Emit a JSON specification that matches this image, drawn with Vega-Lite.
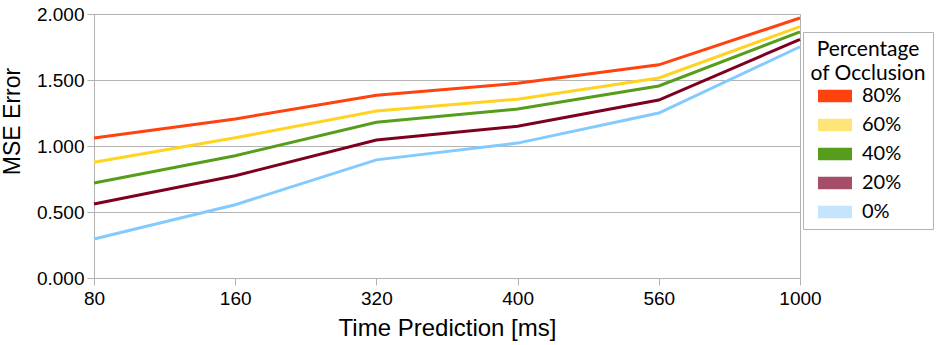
{
  "$schema": "https://vega.github.io/schema/vega-lite/v6.json",
  "width": 706,
  "height": 264,
  "autosize": "none",
  "padding": {"left": 94, "top": 14, "right": 136, "bottom": 67},
  "background": "white",
  "config": {
    "view": {"stroke": "#b3b3b3", "strokeWidth": 1},
    "font": "Liberation Sans"
  },
  "data": {
    "values": [
      {"time": 80, "occl": "80%", "mse": 1.06},
      {"time": 160, "occl": "80%", "mse": 1.205},
      {"time": 320, "occl": "80%", "mse": 1.385},
      {"time": 400, "occl": "80%", "mse": 1.475},
      {"time": 560, "occl": "80%", "mse": 1.615},
      {"time": 1000, "occl": "80%", "mse": 1.97},
      {"time": 80, "occl": "60%", "mse": 0.877},
      {"time": 160, "occl": "60%", "mse": 1.062},
      {"time": 320, "occl": "60%", "mse": 1.265},
      {"time": 400, "occl": "60%", "mse": 1.355},
      {"time": 560, "occl": "60%", "mse": 1.515},
      {"time": 1000, "occl": "60%", "mse": 1.905},
      {"time": 80, "occl": "40%", "mse": 0.72},
      {"time": 160, "occl": "40%", "mse": 0.926},
      {"time": 320, "occl": "40%", "mse": 1.18},
      {"time": 400, "occl": "40%", "mse": 1.28},
      {"time": 560, "occl": "40%", "mse": 1.455},
      {"time": 1000, "occl": "40%", "mse": 1.865},
      {"time": 80, "occl": "20%", "mse": 0.56},
      {"time": 160, "occl": "20%", "mse": 0.775},
      {"time": 320, "occl": "20%", "mse": 1.045},
      {"time": 400, "occl": "20%", "mse": 1.15},
      {"time": 560, "occl": "20%", "mse": 1.348},
      {"time": 1000, "occl": "20%", "mse": 1.808},
      {"time": 80, "occl": "0%", "mse": 0.295},
      {"time": 160, "occl": "0%", "mse": 0.555},
      {"time": 320, "occl": "0%", "mse": 0.895},
      {"time": 400, "occl": "0%", "mse": 1.022},
      {"time": 560, "occl": "0%", "mse": 1.25},
      {"time": 1000, "occl": "0%", "mse": 1.752}
    ]
  },
  "encoding": {
    "x": {
      "field": "time",
      "type": "ordinal",
      "scale": {"type": "point", "padding": 0},
      "axis": {
        "title": "Time Prediction [ms]",
        "labelAngle": 0,
        "labelFont": "Liberation Sans",
        "labelFontSize": 19,
        "labelColor": "#000000",
        "labelPadding": 4,
        "tickColor": "#b3b3b3",
        "tickSize": 7,
        "domainColor": "#b3b3b3",
        "titleFont": "Liberation Sans",
        "titleFontSize": 24,
        "titleFontWeight": "normal",
        "titleColor": "#000000",
        "titlePadding": 8,
        "grid": false
      }
    },
    "y": {
      "field": "mse",
      "type": "quantitative",
      "scale": {"domain": [0, 2], "nice": false},
      "axis": {
        "title": "MSE Error",
        "values": [0, 0.5, 1, 1.5, 2],
        "format": ".3f",
        "labelFont": "Liberation Sans",
        "labelFontSize": 19,
        "labelColor": "#000000",
        "labelPadding": 3,
        "tickColor": "#b3b3b3",
        "tickSize": 7,
        "domainColor": "#b3b3b3",
        "gridColor": "#b3b3b3",
        "titleFont": "Liberation Sans",
        "titleFontSize": 23,
        "titleFontWeight": "normal",
        "titleColor": "#000000",
        "titleX": -70,
        "titleY": 107
      }
    }
  },
  "layer": [
    {
      "mark": {"type": "line", "strokeWidth": 3},
      "encoding": {
        "color": {
          "field": "occl",
          "type": "nominal",
          "scale": {
            "domain": ["80%", "60%", "40%", "20%", "0%"],
            "range": ["#ff420e", "#ffd320", "#579d1c", "#7e0021", "#83caff"]
          },
          "legend": null
        }
      }
    },
    {
      "mark": {"type": "point", "filled": true, "opacity": 0, "shape": "square"},
      "encoding": {
        "color": {
          "field": "occl",
          "type": "nominal",
          "scale": {
            "domain": ["80%", "60%", "40%", "20%", "0%"],
            "range": ["#ff420e", "#ffe47a", "#579d1c", "#a64d68", "#c5e5ff"]
          },
          "legend": {
            "title": ["Percentage", "of Occlusion"],
            "orient": "none",
            "legendX": 709,
            "legendY": 18,
            "padding": 7,
            "strokeColor": "#b3b3b3",
            "fillColor": "#ffffff",
            "titleFont": "Lato",
            "titleFontSize": 21,
            "titleFontWeight": "normal",
            "titleColor": "#000000",
            "titleAlign": "center",
            "titleAnchor": "middle",
            "titleLineHeight": 24,
            "titlePadding": 2,
            "labelFont": "Lato",
            "labelFontSize": 20,
            "labelColor": "#000000",
            "labelOffset": 27,
            "symbolType": "M-1,-0.9H3.857V0.9H-1Z",
            "symbolSize": 196,
            "symbolOpacity": 1,
            "symbolStrokeWidth": 0,
            "symbolOffset": -19,
            "rowPadding": 9
          }
        }
      }
    }
  ],
  "resolve": {"scale": {"color": "independent"}}
}
